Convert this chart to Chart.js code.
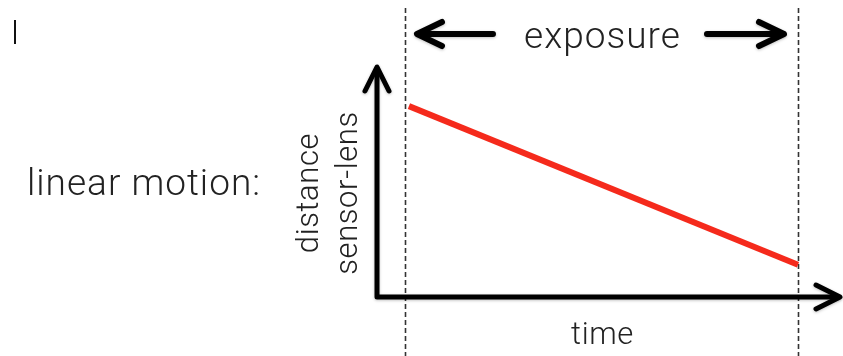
<!DOCTYPE html>
<html lang="en">
<head>
  <meta charset="UTF-8" />
  <title>linear motion</title>
  <script src="https://cdn.jsdelivr.net/npm/chart.js"></script>
  <style>
    body { margin: 0; background: #fff; }
    canvas { display: block; }
  </style>
</head>
<body>
  <canvas id="motionChart" width="843" height="356"></canvas>
  <script>
    // exposure runs from time 0 to 1
    const times = [0.01, 1.0];
    const distances = [0.83, 0.14];
    const exposureMarks = [0, 1];
    const labels = {
      title: "linear motion:",
      exposure: "exposure",
      xTitle: "time",
      yTitle: ["distance", "sensor-lens"]
    };

    const FONT = "Roboto, 'Liberation Sans', sans-serif";
    const ink = "#222";

    function arrowHead(ctx, tipX, tipY, dx, dy, len, spread) {
      // dx,dy = unit direction of the arrow
      const px = -dy, py = dx;
      ctx.beginPath();
      ctx.moveTo(tipX - dx * len + px * spread, tipY - dy * len + py * spread);
      ctx.lineTo(tipX, tipY);
      ctx.lineTo(tipX - dx * len - px * spread, tipY - dy * len - py * spread);
      ctx.stroke();
    }

    const diagram = {
      id: "diagram",
      beforeDatasetsDraw(chart) {
        const { ctx, chartArea: a, scales: { x } } = chart;
        ctx.save();
        // dashed exposure limits
        ctx.strokeStyle = "#333";
        ctx.lineWidth = 1.6;
        ctx.setLineDash([5, 3]);
        exposureMarks.forEach(t => {
          const px = Math.round(x.getPixelForValue(t)) + 0.5;
          ctx.beginPath();
          ctx.moveTo(px, 8);
          ctx.lineTo(px, chart.height);
          ctx.stroke();
        });
        ctx.setLineDash([]);

        // axes
        ctx.shadowColor = "rgba(0,0,0,0.25)";
        ctx.shadowBlur = 3;
        ctx.shadowOffsetY = 1;
        ctx.strokeStyle = "#000";
        ctx.lineWidth = 5;
        ctx.lineCap = "round";
        ctx.lineJoin = "round";
        ctx.beginPath();
        ctx.moveTo(a.left, a.top + 2);
        ctx.lineTo(a.left, a.bottom);
        ctx.lineTo(a.right - 2, a.bottom);
        ctx.stroke();
        arrowHead(ctx, a.left, a.top, 0, -1, 24, 12);
        arrowHead(ctx, a.right, a.bottom, 1, 0, 24, 12);

        // exposure arrows
        const x0 = x.getPixelForValue(0), x1 = x.getPixelForValue(1);
        const ay = 34;
        ctx.lineWidth = 6;
        ctx.beginPath();
        ctx.moveTo(x0 + 14, ay);
        ctx.lineTo(x0 + 88, ay);
        ctx.moveTo(x1 - 91, ay);
        ctx.lineTo(x1 - 16, ay);
        ctx.stroke();
        arrowHead(ctx, x0 + 12, ay, -1, 0, 25, 12);
        arrowHead(ctx, x1 - 14, ay, 1, 0, 25, 12);
        ctx.restore();
      },
      afterDraw(chart) {
        const { ctx, chartArea: a, scales: { x } } = chart;
        const mid = (x.getPixelForValue(0) + x.getPixelForValue(1)) / 2;
        ctx.save();
        ctx.fillStyle = ink;
        ctx.textBaseline = "alphabetic";

        ctx.font = "300 37px " + FONT;
        ctx.letterSpacing = "1px";
        ctx.textAlign = "left";
        ctx.fillText(labels.title, 27, 195);

        ctx.textAlign = "center";
        ctx.fillText(labels.exposure, mid + 1, 48);

        ctx.font = "300 31px " + FONT;
        ctx.letterSpacing = "0.6px";
        ctx.fillText(labels.xTitle, mid + 1, 344);

        const cy = (a.top + a.bottom) / 2 + 11;
        [[318, labels.yTitle[0]], [357, labels.yTitle[1]]].forEach(([bx, txt]) => {
          ctx.save();
          ctx.translate(bx, cy);
          ctx.rotate(-Math.PI / 2);
          ctx.fillText(txt, 0, 0);
          ctx.restore();
        });

        // small stray mark at top left
        ctx.fillStyle = "#111";
        ctx.fillRect(14, 20, 2, 24);
        ctx.restore();
      }
    };

    new Chart(document.getElementById("motionChart"), {
      type: "line",
      data: {
        datasets: [{
          data: times.map((t, i) => ({ x: t, y: distances[i] })),
          borderColor: "#f52a1c",
          borderWidth: 6,
          borderCapStyle: "butt",
          pointRadius: 0,
          tension: 0
        }]
      },
      options: {
        responsive: false,
        animation: false,
        devicePixelRatio: 1,
        layout: { padding: { left: 377, right: 3, top: 67, bottom: 59 } },
        plugins: { legend: { display: false }, tooltip: { enabled: false } },
        scales: {
          x: { type: "linear", min: -0.0712, max: 1.1069, display: false },
          y: { type: "linear", min: 0, max: 1, display: false }
        }
      },
      plugins: [diagram]
    });
  </script>
</body>
</html>
